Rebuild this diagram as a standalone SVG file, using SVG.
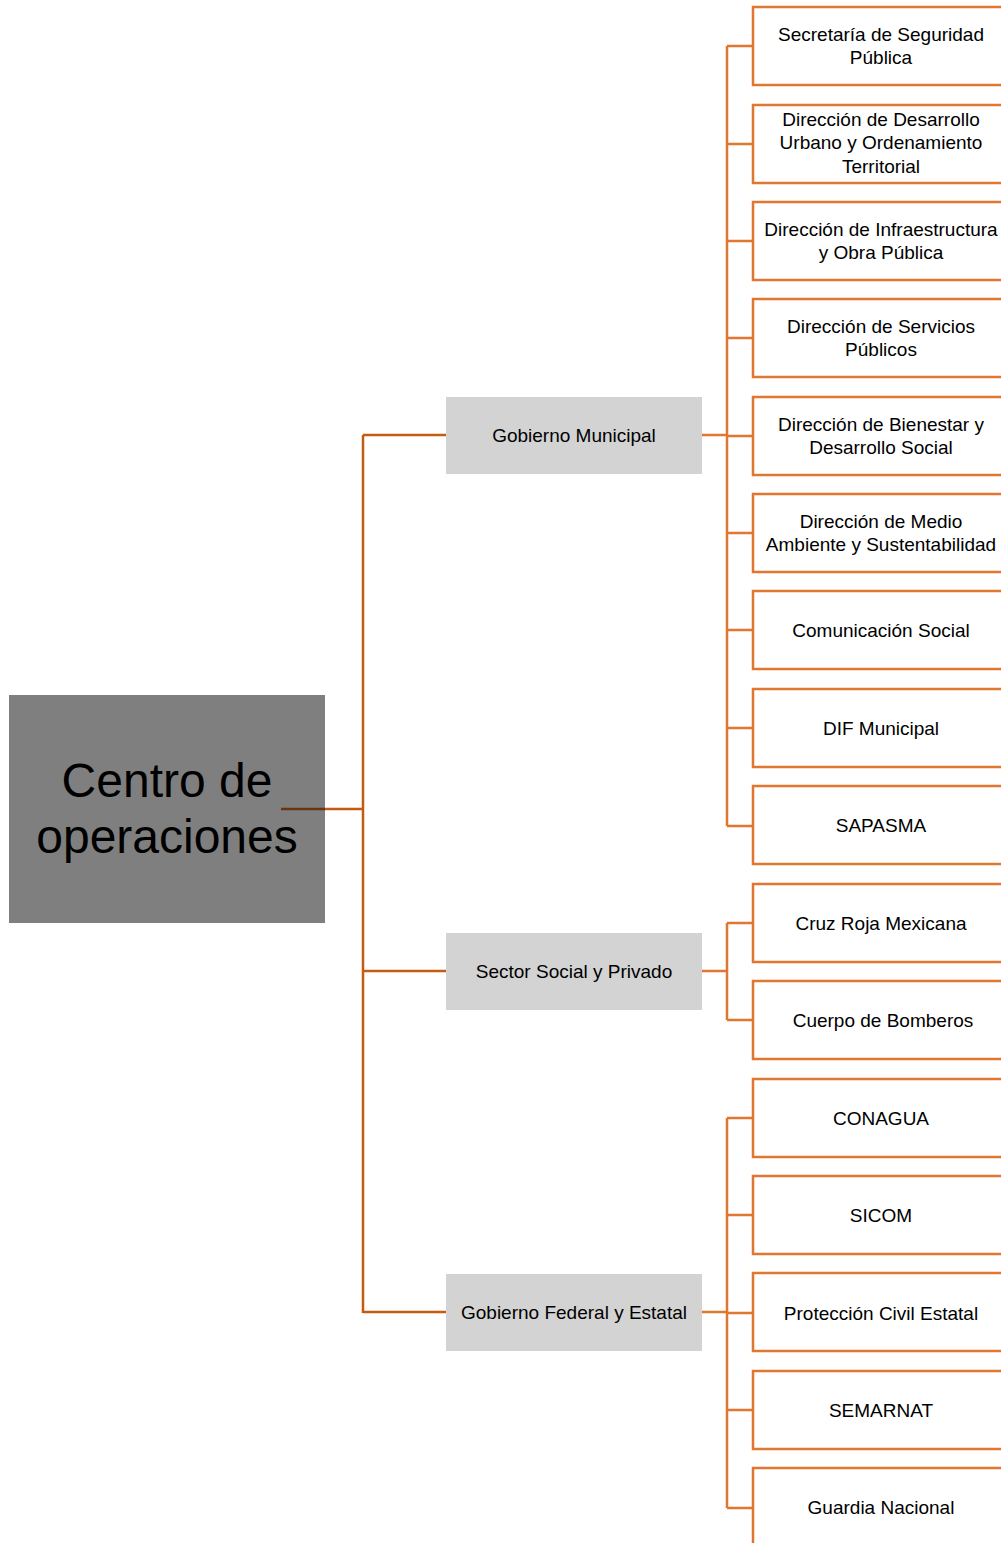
<svg xmlns="http://www.w3.org/2000/svg" width="1001" height="1543" viewBox="0 0 1001 1543">
<style>
.t{font-family:"Liberation Sans",Arial,sans-serif;fill:#000;text-anchor:middle}
.leaf{fill:#fff;stroke:#E0762F;stroke-width:2.5}
.lt{font-size:19px}
.mid{fill:#D3D3D3}
.c1{stroke:#C55A11;stroke-width:2.5;fill:none}
.c2{stroke:#E0762F;stroke-width:2.5;fill:none}
</style>
<rect width="1001" height="1543" fill="#fff"/>
<g id="root">
<rect x="9" y="695" width="316" height="228" fill="#7F7F7F"/>
<text class="t" x="167" y="797" style="font-size:48px">Centro de</text>
<text class="t" x="167" y="853" style="font-size:48px">operaciones</text>
</g>
<g id="mid1"><rect class="mid" x="446" y="397" width="256" height="77"/><text class="t lt" x="574" y="442">Gobierno Municipal</text></g>
<g id="mid2"><rect class="mid" x="446" y="933" width="256" height="77"/><text class="t lt" x="574" y="978">Sector Social y Privado</text></g>
<g id="mid3"><rect class="mid" x="446" y="1274" width="256" height="77"/><text class="t lt" x="574" y="1319">Gobierno Federal y Estatal</text></g>
<g id="connectors">
<path d="M281 809H325" stroke="#6A3412" stroke-width="2.5"/>
<path class="c1" d="M325 809H363M363 435V1313M363 435H446M363 971H446M363 1312H446"/>
<path class="c2" d="M702 435H727M727 46V826M727 46H753M727 144H753M727 241H753M727 338H753M727 436H753M727 533H753M727 630H753M727 728H753M727 826H753"/>
<path class="c2" d="M702 971H727M727 923V1020M727 923H753M727 1020H753"/>
<path class="c2" d="M702 1312H727M727 1118V1508M727 1118H753M727 1215H753M727 1313H753M727 1410H753M727 1508H753"/>
</g>
<g id="leaf1"><rect class="leaf" x="753" y="7" width="270" height="78"/><text class="t lt" x="881" y="41">Secretaría de Seguridad</text><text class="t lt" x="881" y="64">Pública</text></g>
<g id="leaf2"><rect class="leaf" x="753" y="105" width="270" height="78"/><text class="t lt" x="881" y="126">Dirección de Desarrollo</text><text class="t lt" x="881" y="149">Urbano y Ordenamiento</text><text class="t lt" x="881" y="173">Territorial</text></g>
<g id="leaf3"><rect class="leaf" x="753" y="202" width="270" height="78"/><text class="t lt" x="881" y="236">Dirección de Infraestructura</text><text class="t lt" x="881" y="259">y Obra Pública</text></g>
<g id="leaf4"><rect class="leaf" x="753" y="299" width="270" height="78"/><text class="t lt" x="881" y="333">Dirección de Servicios</text><text class="t lt" x="881" y="356">Públicos</text></g>
<g id="leaf5"><rect class="leaf" x="753" y="397" width="270" height="78"/><text class="t lt" x="881" y="431">Dirección de Bienestar y</text><text class="t lt" x="881" y="454">Desarrollo Social</text></g>
<g id="leaf6"><rect class="leaf" x="753" y="494" width="270" height="78"/><text class="t lt" x="881" y="528">Dirección de Medio</text><text class="t lt" x="881" y="551">Ambiente y Sustentabilidad</text></g>
<g id="leaf7"><rect class="leaf" x="753" y="591" width="270" height="78"/><text class="t lt" x="881" y="637">Comunicación Social</text></g>
<g id="leaf8"><rect class="leaf" x="753" y="689" width="270" height="78"/><text class="t lt" x="881" y="735">DIF Municipal</text></g>
<g id="leaf9"><rect class="leaf" x="753" y="786" width="270" height="78"/><text class="t lt" x="881" y="832">SAPASMA</text></g>
<g id="leaf10"><rect class="leaf" x="753" y="884" width="270" height="78"/><text class="t lt" x="881" y="930">Cruz Roja Mexicana</text></g>
<g id="leaf11"><rect class="leaf" x="753" y="981" width="270" height="78"/><text class="t lt" x="883" y="1027">Cuerpo de Bomberos</text></g>
<g id="leaf12"><rect class="leaf" x="753" y="1079" width="270" height="78"/><text class="t lt" x="881" y="1125">CONAGUA</text></g>
<g id="leaf13"><rect class="leaf" x="753" y="1176" width="270" height="78"/><text class="t lt" x="881" y="1222">SICOM</text></g>
<g id="leaf14"><rect class="leaf" x="753" y="1273" width="270" height="78"/><text class="t lt" x="881" y="1320">Protección Civil Estatal</text></g>
<g id="leaf15"><rect class="leaf" x="753" y="1371" width="270" height="78"/><text class="t lt" x="881" y="1417">SEMARNAT</text></g>
<g id="leaf16"><rect class="leaf" x="753" y="1468" width="270" height="90"/><text class="t lt" x="881" y="1514">Guardia Nacional</text></g>
</svg>
